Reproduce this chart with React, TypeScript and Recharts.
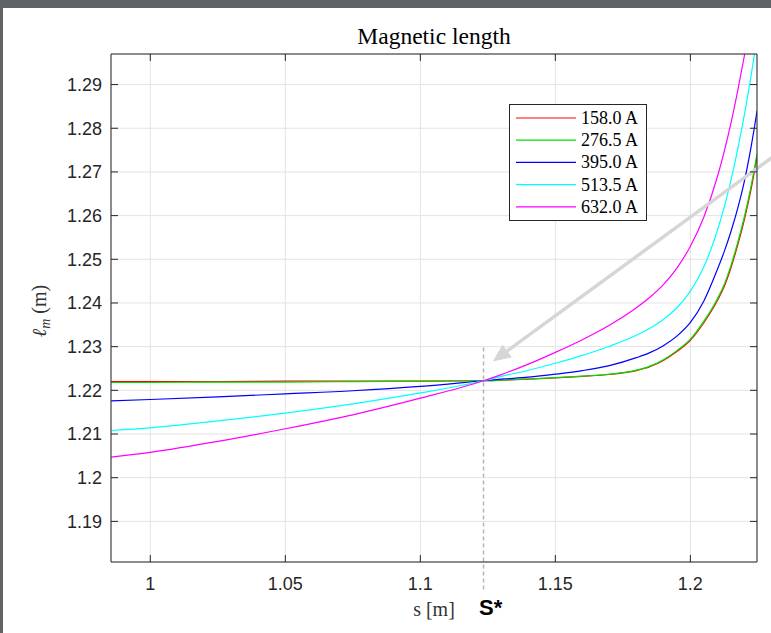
import React from "react";
import {
  LineChart,
  Line,
  XAxis,
  YAxis,
  CartesianGrid,
  ReferenceLine,
} from "recharts";

// arc length s [m] where the curves were read
const sValues = [
  0.9855, 1.0, 1.025, 1.05, 1.075, 1.1, 1.1234, 1.13, 1.14, 1.15, 1.16, 1.17,
  1.18, 1.185, 1.19, 1.195, 1.2, 1.205, 1.21, 1.2125, 1.215, 1.2175, 1.22,
  1.2225, 1.2247,
];

// magnetic length l_m [m] per current
const lm158 = [
  1.222, 1.222, 1.222, 1.2221, 1.2221, 1.2221, 1.2222, 1.22232, 1.22255,
  1.22285, 1.2232, 1.22363, 1.22452, 1.2254, 1.22685, 1.22888, 1.23145,
  1.23548, 1.24055, 1.2437, 1.248, 1.2532, 1.2591, 1.2661, 1.2735,
];
const lm276 = [
  1.2218, 1.2218, 1.2219, 1.2219, 1.222, 1.2221, 1.2222, 1.22233, 1.2226,
  1.2229, 1.22325, 1.2237, 1.22462, 1.22554, 1.22702, 1.22909, 1.23172,
  1.23584, 1.24099, 1.2442, 1.24855, 1.25382, 1.25977, 1.26687, 1.2742,
];
const lm395 = [
  1.2176, 1.2179, 1.2185, 1.2192, 1.2199, 1.2209, 1.2222, 1.22256, 1.22302,
  1.2237, 1.22451, 1.22565, 1.22748, 1.22863, 1.23023, 1.23241, 1.23554,
  1.24047, 1.24768, 1.2517, 1.2563, 1.2616, 1.2679, 1.2758, 1.284,
];
const lm513 = [
  1.2108, 1.2114, 1.213, 1.2148, 1.2169, 1.2194, 1.2222, 1.2232, 1.2246,
  1.2262, 1.228, 1.2301, 1.2326, 1.2342, 1.2362, 1.2389, 1.2427, 1.2483,
  1.2566, 1.2619, 1.268, 1.2751, 1.2831, 1.2921, 1.3009,
];
const lm632 = [
  1.2047, 1.2058, 1.2083, 1.2112, 1.2144, 1.2182, 1.2222, 1.2236, 1.226,
  1.2287, 1.2316, 1.2349, 1.2389, 1.2413, 1.2442, 1.248, 1.253, 1.2597,
  1.2689, 1.2746, 1.2811, 1.2885, 1.2966, 1.3055, 1.314,
];

const seriesNames = ["158.0 A", "276.5 A", "395.0 A", "513.5 A", "632.0 A"];
const seriesColors = ["#ff0000", "#00e000", "#0000ff", "#00ffff", "#ff00ff"];
const seriesValues = [lm158, lm276, lm395, lm513, lm632];

const xTicks = [1, 1.05, 1.1, 1.15, 1.2];
const yTicks = [1.19, 1.2, 1.21, 1.22, 1.23, 1.24, 1.25, 1.26, 1.27, 1.28, 1.29];

const sStar = 1.1234;

const data = sValues.map((s, i) => {
  const row: Record<string, number> = { s };
  seriesValues.forEach((vals, k) => {
    row["c" + k] = vals[i];
  });
  return row;
});

const AXIS = "#262626";
const GRID = "#e3e3e3";
const ARROW = "#d6d6d6";
const SANS = "'Liberation Sans', Arial, sans-serif";
const SERIF = "'Liberation Serif', 'Times New Roman', serif";
const TICK_LEN = 7;
const X_MARGIN = 15;
const Y_MARGIN = 9;
const X_DOMAIN = [0.98545, 1.22467];
const Y_DOMAIN = [1.1807, 1.297];

const fmt = (v: number) => String(parseFloat(v.toFixed(2)));

const BottomTick = (props: any) => {
  const { x, y, payload } = props;
  const axisY = y - X_MARGIN;
  return (
    <g>
      <line x1={x} x2={x} y1={axisY} y2={axisY - TICK_LEN} stroke={AXIS} />
      <text x={x} y={y} dy="0.71em" textAnchor="middle" fill={AXIS} fontSize={18} fontFamily={SANS}>
        {fmt(payload.value)}
      </text>
    </g>
  );
};

const LeftTick = (props: any) => {
  const { x, y, payload } = props;
  const axisX = x + Y_MARGIN;
  return (
    <g>
      <line x1={axisX} x2={axisX + TICK_LEN} y1={y} y2={y} stroke={AXIS} />
      <text x={x} y={y} dy="0.36em" textAnchor="end" fill={AXIS} fontSize={18} fontFamily={SANS}>
        {fmt(payload.value)}
      </text>
    </g>
  );
};

const TopTick = (props: any) => {
  const { x, y } = props;
  return <line x1={x} x2={x} y1={y} y2={y + TICK_LEN} stroke={AXIS} />;
};

const RightTick = (props: any) => {
  const { x, y } = props;
  return <line x1={x} x2={x - TICK_LEN} y1={y} y2={y} stroke={AXIS} />;
};

const ArrowShape = (props: any) => {
  const { x1, y1, x2, y2 } = props;
  const dx = x2 - x1;
  const dy = y2 - y1;
  const len = Math.hypot(dx, dy);
  const ux = dx / len;
  const uy = dy / len;
  const headLen = 18;
  const headHalf = 8;
  const bx = x2 - ux * headLen;
  const by = y2 - uy * headLen;
  const px = -uy;
  const py = ux;
  return (
    <g>
      <line x1={x1} y1={y1} x2={bx} y2={by} stroke={ARROW} strokeWidth={3.5} />
      <polygon
        points={`${x2},${y2} ${bx + px * headHalf},${by + py * headHalf} ${bx - px * headHalf},${by - py * headHalf}`}
        fill={ARROW}
      />
    </g>
  );
};

export default function App() {
  return (
    <div style={{ position: "absolute", left: 0, top: 0, width: 771, height: 633 }}>
      <div
        style={{
          position: "absolute",
          inset: 0,
          background: "#fff",
          borderTop: "8px solid #5f6366",
          borderLeft: "3px solid #5f6366",
          boxSizing: "border-box",
        }}
      />
      <div style={{ position: "absolute", left: 0, top: 0 }}>
        <LineChart
          width={771}
          height={633}
          data={data}
          margin={{ top: 44, right: 4, bottom: 41, left: 51 }}
        >
          <CartesianGrid stroke={GRID} />
          <XAxis
            dataKey="s"
            type="number"
            domain={X_DOMAIN}
            allowDataOverflow
            ticks={xTicks}
            height={30}
            tickSize={0}
            tickMargin={X_MARGIN}
            tickLine={false}
            axisLine={{ stroke: AXIS }}
            tick={BottomTick}
            interval={0}
          />
          <XAxis
            xAxisId="top"
            orientation="top"
            dataKey="s"
            type="number"
            domain={X_DOMAIN}
            allowDataOverflow
            ticks={xTicks}
            height={10}
            tickSize={0}
            tickMargin={0}
            tickLine={false}
            axisLine={{ stroke: AXIS }}
            tick={TopTick}
            interval={0}
          />
          <YAxis
            type="number"
            domain={Y_DOMAIN}
            allowDataOverflow
            ticks={yTicks}
            width={60}
            tickSize={0}
            tickMargin={Y_MARGIN}
            tickLine={false}
            axisLine={{ stroke: AXIS }}
            tick={LeftTick}
            interval={0}
          />
          <YAxis
            yAxisId="right"
            orientation="right"
            type="number"
            domain={Y_DOMAIN}
            allowDataOverflow
            ticks={yTicks}
            width={10}
            tickSize={0}
            tickMargin={0}
            tickLine={false}
            axisLine={{ stroke: AXIS }}
            tick={RightTick}
            interval={0}
          />
          <ReferenceLine
            segment={[
              { x: sStar, y: 1.2298 },
              { x: sStar, y: 1.1744 },
            ]}
            stroke="#b5b5b5"
            strokeWidth={1.5}
            strokeDasharray="4 3"
            ifOverflow="visible"
          />
          {seriesValues.map((_v, k) => (
            <Line
              key={k}
              dataKey={"c" + k}
              name={seriesNames[k]}
              type="monotone"
              stroke={seriesColors[k]}
              strokeWidth={1.2}
              dot={false}
              isAnimationActive={false}
            />
          ))}
          <ReferenceLine
            segment={[
              { x: 1.234, y: 1.275 },
              { x: 1.1268, y: 1.2266 },
            ]}
            ifOverflow="visible"
            shape={ArrowShape}
          />
        </LineChart>
      </div>
      <svg
        width={771}
        height={633}
        style={{ position: "absolute", left: 0, top: 0, pointerEvents: "none" }}
      >
        <text x={434} y={43.5} textAnchor="middle" fontFamily={SERIF} fontSize={23.5} fill="#000">
          Magnetic length
        </text>
        <text x={434} y={615.5} textAnchor="middle" fontFamily={SERIF} fontSize={20} fill="#333">
          s [m]
        </text>
        <text x={479} y={615} fontFamily={SANS} fontSize={22} fontWeight="bold" fill="#000">
          S*
        </text>
        <text
          transform="translate(46,311) rotate(-90)"
          textAnchor="middle"
          fontFamily={SERIF}
          fontSize={20}
          fill="#333"
        >
          <tspan fontStyle="italic">ℓ</tspan>
          <tspan fontStyle="italic" fontSize={14} dy={4}>m</tspan>
          <tspan dy={-4}> (m)</tspan>
        </text>
        <g>
          <rect x={509.5} y={104.5} width={137} height={116} fill="#fff" stroke={AXIS} />
          {seriesNames.map((name, k) => {
            const cy = 118 + k * 22.2;
            return (
              <g key={name}>
                <line x1={516} x2={576} y1={cy} y2={cy} stroke={seriesColors[k]} strokeWidth={1.2} />
                <text x={581} y={cy + 6} fontFamily={SERIF} fontSize={18} fill="#000">
                  {name}
                </text>
              </g>
            );
          })}
        </g>
      </svg>
    </div>
  );
}
